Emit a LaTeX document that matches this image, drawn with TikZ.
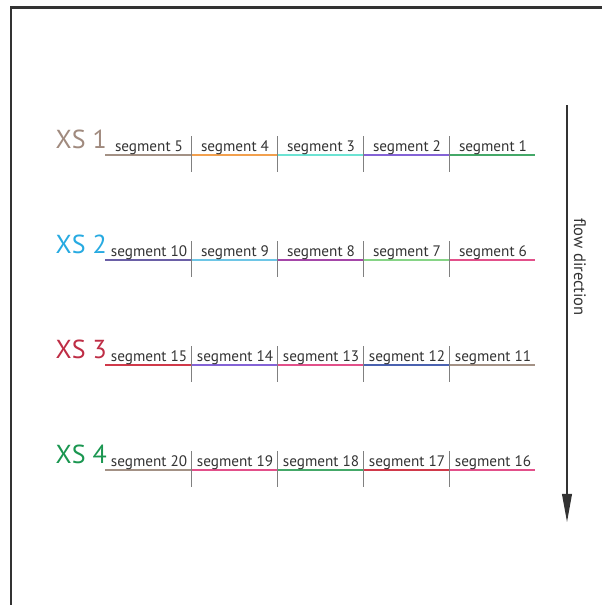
\documentclass[tikz,border=0pt]{standalone}
\usepackage{fontspec}
\setmainfont{PT Sans}
\usetikzlibrary{arrows.meta}

\definecolor{xsone}{HTML}{A08A7E}
\definecolor{xstwo}{HTML}{27AAE1}
\definecolor{xsthree}{HTML}{BE2D45}
\definecolor{xsfour}{HTML}{1A9650}
\definecolor{taupe}{HTML}{A39185}
\definecolor{orange}{HTML}{F2A04E}
\definecolor{turq}{HTML}{6CE3D3}
\definecolor{violet}{HTML}{8463D6}
\definecolor{green}{HTML}{44A868}
\definecolor{slate}{HTML}{6A5FA6}
\definecolor{skyblue}{HTML}{6EC6E6}
\definecolor{plum}{HTML}{A546A8}
\definecolor{leaf}{HTML}{86D486}
\definecolor{pink}{HTML}{E2508A}
\definecolor{red}{HTML}{D0394A}
\definecolor{blue}{HTML}{4A62B0}
\definecolor{textgray}{HTML}{333333}

\tikzset{
  xs/.style={anchor=base east, inner sep=0pt, font=\fontsize{18.5}{22}\selectfont},
  seglabel/.style={anchor=base, inner sep=0pt, text=textgray, font=\fontsize{10.8}{13}\selectfont},
  segline/.style={line width=0.9pt},
  divider/.style={draw=gray, line width=0.6pt}
}

\begin{document}
\begin{tikzpicture}[x=0.025cm, y=-0.025cm]
\useasboundingbox (0,0) rectangle (602,605);
% frame
\draw[line width=1.6pt, draw=textgray] (11,605) -- (11,7.5) -- (602,7.5);

% XS 1
\node[xs, text=xsone] (xs1) at (107,148) {XS 1};
\foreach \k/\num/\col in {0/5/taupe,1/4/orange,2/3/turq,3/2/violet,4/1/green}{
  \coordinate (r1a\k) at ({105+86*\k},155);
  \coordinate (r1b\k) at ({191+86*\k},155);
  \draw[segline, \col] (r1a\k) -- (r1b\k);
  \node[seglabel] (seg\num) at ({149+86*\k},151) {segment \num};
}
\foreach \k in {1,...,4}
  \draw[divider] (r1a\k) ++(0,-19) -- ++(0,36);

% XS 2
\node[xs, text=xstwo] (xs2) at (107,253) {XS 2};
\foreach \k/\num/\col in {0/10/slate,1/9/skyblue,2/8/plum,3/7/leaf,4/6/pink}{
  \coordinate (r2a\k) at ({105+86*\k},260);
  \coordinate (r2b\k) at ({191+86*\k},260);
  \draw[segline, \col] (r2a\k) -- (r2b\k);
  \node[seglabel] (seg\num) at ({149+86*\k},256) {segment \num};
}
\foreach \k in {1,...,4}
  \draw[divider] (r2a\k) ++(0,-19) -- ++(0,36);

% XS 3
\node[xs, text=xsthree] (xs3) at (107,358) {XS 3};
\foreach \k/\num/\col in {0/15/red,1/14/violet,2/13/pink,3/12/blue,4/11/taupe}{
  \coordinate (r3a\k) at ({105+86*\k},365);
  \coordinate (r3b\k) at ({191+86*\k},365);
  \draw[segline, \col] (r3a\k) -- (r3b\k);
  \node[seglabel] (seg\num) at ({149+86*\k},361) {segment \num};
}
\foreach \k in {1,...,4}
  \draw[divider] (r3a\k) ++(0,-19) -- ++(0,36);

% XS 4
\node[xs, text=xsfour] (xs4) at (107,463) {XS 4};
\foreach \k/\num/\col in {0/20/taupe,1/19/pink,2/18/green,3/17/red,4/16/pink}{
  \coordinate (r4a\k) at ({105+86*\k},470);
  \coordinate (r4b\k) at ({191+86*\k},470);
  \draw[segline, \col] (r4a\k) -- (r4b\k);
  \node[seglabel] (seg\num) at ({149+86*\k},466) {segment \num};
}
\foreach \k in {1,...,4}
  \draw[divider] (r4a\k) ++(0,-19) -- ++(0,36);

% flow arrow
\coordinate (flowtop) at (567,105);
\coordinate (flowend) at (567,522);
\draw[line width=0.9pt, draw=textgray, -{Triangle[length=20pt, width=7pt]}] (flowtop) -- (flowend);
\node[rotate=-90, inner sep=0pt, text=textgray, font=\fontsize{11.8}{14}\selectfont] (flowlabel) at (580,267) {flow direction};
\end{tikzpicture}
\end{document}
